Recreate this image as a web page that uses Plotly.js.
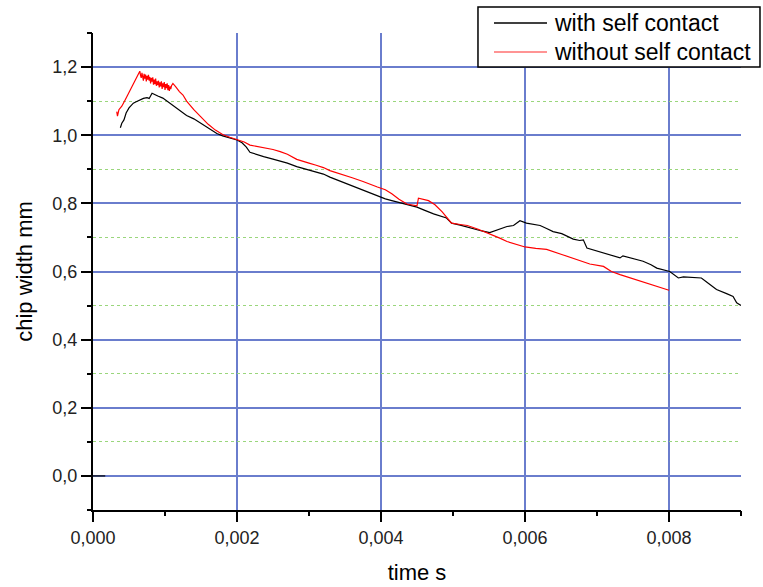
<!DOCTYPE html>
<html>
<head>
<meta charset="utf-8">
<script src="https://cdn.plot.ly/plotly-3.0.1.min.js"></script>
<style>html,body{margin:0;padding:0;background:#fff;}#chart{width:763px;height:587px;}</style>
</head>
<body>
<div id="chart"></div>
<script>
// time in s, chip width in mm
const timeWith = [0, 0.00017, null,
  0.00038, 0.00040, 0.00043, 0.00046, 0.00050, 0.00053, 0.00056, 0.00060, 0.00065, 0.00070, 0.00075, 0.00078,
  0.00082, 0.00086, 0.00090, 0.00097, 0.00104, 0.00111, 0.00120, 0.00130, 0.00140, 0.00149, 0.00160, 0.00172,
  0.00180, 0.00190, 0.00200, 0.00207, 0.00213, 0.00218, 0.00228, 0.00237, 0.00250, 0.00260, 0.00270, 0.00283, 0.00290,
  0.00300, 0.00310, 0.00320, 0.00329, 0.00340, 0.00350, 0.00360, 0.00375, 0.00385, 0.00395, 0.00406, 0.00415,
  0.00425, 0.00436, 0.00450, 0.00460, 0.00473, 0.00491, 0.00498, 0.00510, 0.00524, 0.00540, 0.00551, 0.00558,
  0.00565, 0.00575, 0.00584, 0.00593, 0.00602, 0.00612, 0.00621, 0.00630, 0.00639, 0.00651, 0.00660, 0.00667,
  0.00676, 0.00681, 0.00686, 0.00700, 0.00715, 0.00732, 0.00736, 0.00750, 0.00764, 0.00775, 0.00783, 0.00801,
  0.00813, 0.00820, 0.00835, 0.00845, 0.00855, 0.00866, 0.00880, 0.00889, 0.00894, 0.00900];
const widthWith = [0, 0, null,
  1.022, 1.035, 1.045, 1.065, 1.080, 1.088, 1.094, 1.098, 1.103, 1.108, 1.110, 1.108,
  1.123, 1.120, 1.115, 1.109, 1.098, 1.088, 1.073, 1.058, 1.048, 1.036, 1.020, 1.005,
  0.998, 0.992, 0.986, 0.978, 0.965, 0.950, 0.942, 0.937, 0.930, 0.925, 0.918, 0.908, 0.904,
  0.898, 0.893, 0.886, 0.877, 0.868, 0.860, 0.852, 0.839, 0.830, 0.822, 0.813, 0.808,
  0.803, 0.798, 0.789, 0.780, 0.769, 0.757, 0.742, 0.736, 0.727, 0.719, 0.714, 0.719,
  0.726, 0.732, 0.735, 0.749, 0.742, 0.738, 0.735, 0.726, 0.717, 0.711, 0.702, 0.695,
  0.691, 0.693, 0.669, 0.660, 0.650, 0.640, 0.646, 0.638, 0.630, 0.620, 0.610, 0.600,
  0.581, 0.584, 0.583, 0.581, 0.565, 0.547, 0.535, 0.527, 0.508, 0.500];

const timeWithout = [0.00033, 0.00034, 0.00036, 0.00040, 0.00045, 0.00050, 0.00055, 0.00060, 0.00063, 0.00065,
  0.00066, 0.00067, 0.00068, 0.00069, 0.00070, 0.00071, 0.00072, 0.00073, 0.00074, 0.00075, 0.00076, 0.00077,
  0.00078, 0.00079, 0.00080, 0.00081, 0.00082, 0.00083, 0.00084, 0.00085, 0.00086, 0.00087, 0.00088, 0.00089,
  0.00090, 0.00091, 0.00092, 0.00093, 0.00094, 0.00095, 0.00096, 0.00097, 0.00098, 0.00099, 0.00100, 0.00101,
  0.00102, 0.00103, 0.00104, 0.00105, 0.00106, 0.00107, 0.00108, 0.00109, 0.00111, 0.00115,
  0.00120, 0.00125, 0.00130, 0.00140, 0.00150, 0.00160, 0.00170, 0.00180, 0.00190, 0.00200, 0.00210, 0.00218,
  0.00228, 0.00237, 0.00250, 0.00260, 0.00270, 0.00283, 0.00290, 0.00300, 0.00310, 0.00320, 0.00329, 0.00340,
  0.00350, 0.00360, 0.00375, 0.00385, 0.00395, 0.00406, 0.00415, 0.00425, 0.00436, 0.00450, 0.00452, 0.00466,
  0.00475, 0.00485, 0.00491, 0.00498, 0.00510, 0.00520, 0.00535, 0.00551, 0.00565, 0.00575, 0.00590, 0.00600,
  0.00615, 0.00630, 0.00651, 0.00665, 0.00676, 0.00690, 0.00709, 0.00720, 0.00732, 0.00745, 0.00755, 0.00770,
  0.00783, 0.00793, 0.00800];
const widthWithout = [1.069, 1.056, 1.075, 1.085, 1.105, 1.125, 1.145, 1.168, 1.178, 1.188,
  1.176, 1.168, 1.183, 1.172, 1.160, 1.180, 1.166, 1.178, 1.158, 1.174, 1.163, 1.177,
  1.160, 1.171, 1.152, 1.168, 1.157, 1.170, 1.148, 1.163, 1.150, 1.166, 1.145, 1.158,
  1.147, 1.160, 1.140, 1.155, 1.143, 1.158, 1.136, 1.152, 1.141, 1.156, 1.133, 1.150,
  1.138, 1.152, 1.132, 1.147, 1.130, 1.143, 1.135, 1.145, 1.152, 1.142,
  1.128, 1.118, 1.100, 1.075, 1.052, 1.032, 1.015, 1.002, 0.994, 0.988, 0.980, 0.971,
  0.967, 0.964, 0.958, 0.952, 0.944, 0.929, 0.924, 0.918, 0.912, 0.905, 0.896, 0.889,
  0.882, 0.875, 0.864, 0.855, 0.848, 0.840, 0.828, 0.812, 0.798, 0.793, 0.815, 0.808,
  0.796, 0.775, 0.761, 0.742, 0.738, 0.735, 0.724, 0.711, 0.698, 0.688, 0.678, 0.672,
  0.668, 0.665, 0.650, 0.640, 0.632, 0.622, 0.615, 0.600, 0.591, 0.582, 0.576, 0.565,
  0.556, 0.550, 0.545];

const seriesNames = ['with self contact', 'without self contact'];

const FONT = 'Arial, "Liberation Sans", sans-serif';
const gridBlue = '#6a7dcd';
const minorGreen = '#9ad67c';

const data = [
  {x: timeWith, y: widthWith, name: seriesNames[0], type: 'scatter', mode: 'lines',
   line: {color: '#000000', width: 1.2}, connectgaps: false, showlegend: false},
  {x: timeWithout, y: widthWithout, name: seriesNames[1], type: 'scatter', mode: 'lines',
   line: {color: '#ff0000', width: 1.2}, showlegend: false},
  // empty helper trace so the minor-tick overlay axes get drawn
  {x: [null], y: [null], xaxis: 'x2', yaxis: 'y2', type: 'scatter', mode: 'lines',
   showlegend: false, hoverinfo: 'skip'}
];

// legend drawn with paper-referenced shapes/annotations
const legBox = {x0: 0.5941, x1: 1.0293, y0: 0.9287, y1: 1.0545};
const legRows = [1.0210, 0.9602];
const legColors = ['#000000', '#ff7070'];
const shapes = [
  {type: 'rect', xref: 'paper', yref: 'paper', x0: legBox.x0, x1: legBox.x1, y0: legBox.y0, y1: legBox.y1,
   line: {color: '#000000', width: 1.5}, fillcolor: '#ffffff', layer: 'above'}
];
const annotations = [];
seriesNames.forEach((nm, i) => {
  shapes.push({type: 'line', xref: 'paper', yref: 'paper', x0: 0.6188, x1: 0.7006, y0: legRows[i], y1: legRows[i],
    line: {color: legColors[i], width: 1.5}, layer: 'above'});
  annotations.push({xref: 'paper', yref: 'paper', x: 0.7080, y: legRows[i], xanchor: 'left', yanchor: 'middle',
    text: nm, showarrow: false, font: {family: FONT, size: 23, color: '#000000'}});
});

const layout = {
  width: 763, height: 587,
  margin: {l: 93, r: 22, t: 33, b: 77},
  paper_bgcolor: '#ffffff', plot_bgcolor: '#ffffff',
  separators: ',.',
  font: {family: FONT, color: '#111111'},
  showlegend: false,
  shapes: shapes,
  annotations: annotations,
  xaxis: {
    range: [0, 0.009], tick0: 0, dtick: 0.002, tickformat: '.3f',
    showline: true, linecolor: '#000000', linewidth: 2,
    ticks: 'outside', ticklen: 10, tickwidth: 2, tickcolor: '#000000',
    tickfont: {family: FONT, size: 18, color: '#222222'},
    showgrid: true, gridcolor: gridBlue, gridwidth: 2, zeroline: false,
    title: {text: 'time s', font: {family: FONT, size: 22, color: '#000000'}, standoff: 18}
  },
  yaxis: {
    range: [-0.1, 1.3], tick0: 0, dtick: 0.2, tickformat: '.1f',
    showline: true, linecolor: '#000000', linewidth: 2,
    ticks: 'outside', ticklen: 10, tickwidth: 2, tickcolor: '#000000',
    tickfont: {family: FONT, size: 18, color: '#222222'},
    showgrid: true, gridcolor: gridBlue, gridwidth: 2, zeroline: false,
    title: {text: 'chip width mm', font: {family: FONT, size: 22, color: '#000000'}, standoff: 14}
  },
  xaxis2: {
    overlaying: 'x', anchor: 'y', side: 'bottom', range: [0, 0.009], tick0: 0.001, dtick: 0.002,
    showticklabels: false, ticks: 'outside', ticklen: 5, tickwidth: 2, tickcolor: '#000000',
    showgrid: false, zeroline: false, showline: false
  },
  yaxis2: {
    overlaying: 'y', anchor: 'x', side: 'left', range: [-0.1, 1.3], tick0: 0.1, dtick: 0.2,
    showticklabels: false, ticks: 'outside', ticklen: 5, tickwidth: 2, tickcolor: '#000000',
    showgrid: true, gridcolor: minorGreen, griddash: 'dot', gridwidth: 1, zeroline: false, showline: false
  }
};

Plotly.newPlot('chart', data, layout, {displayModeBar: false, staticPlot: true});
</script>
</body>
</html>
